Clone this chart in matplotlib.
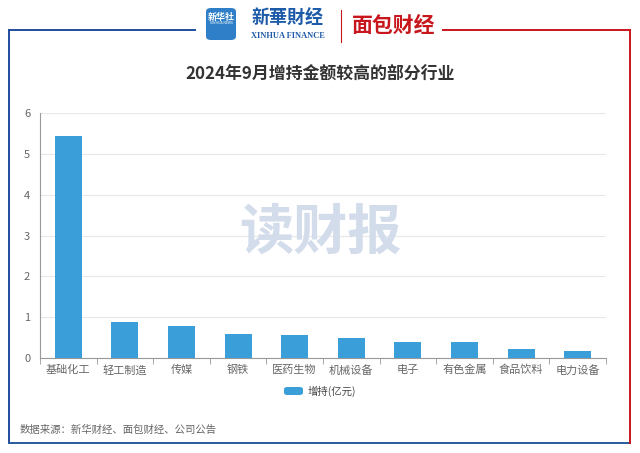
import matplotlib.pyplot as plt
from matplotlib.patches import FancyBboxPatch
from matplotlib.lines import Line2D

plt.rcParams['font.family'] = ['Noto Sans CJK SC', 'DejaVu Sans']

# --- data ---
industries = ['基础化工', '轻工制造', '传媒', '钢铁', '医药生物',
              '机械设备', '电子', '有色金属', '食品饮料', '电力设备']
increase = [5.44, 0.88, 0.78, 0.58, 0.56, 0.48, 0.40, 0.38, 0.21, 0.17]
y_ticks = [0, 1, 2, 3, 4, 5, 6]

BAR = '#3a9fd9'
GREY = '#666666'

fig = plt.figure(figsize=(6.4, 4.53), dpi=100)
W, H = 640, 453

def fx(px):
    return px / W

def fy(py):
    return 1 - py / H

# frame: blue on the left/bottom, red on the right
fig.add_artist(Line2D([fx(9), fx(195)], [fy(29.5), fy(29.5)], color='#1f4e9c', lw=1.4))
fig.add_artist(Line2D([fx(9), fx(9)], [fy(29.5), fy(443)], color='#1f4e9c', lw=1.4))
fig.add_artist(Line2D([fx(9), fx(630)], [fy(443), fy(443)], color='#2a5a9e', lw=1.4))
fig.add_artist(Line2D([fx(443), fx(630)], [fy(29.5), fy(29.5)], color='#c8161d', lw=1.4))
fig.add_artist(Line2D([fx(630), fx(630)], [fy(29.5), fy(443)], color='#c8161d', lw=1.4))

# logos (as text)
icon = FancyBboxPatch((fx(206), fy(40)), fx(30), 32 / H,
                      boxstyle='round,pad=0,rounding_size=0.008',
                      transform=fig.transFigure, fc='#2f7fc8', ec='none')
fig.add_artist(icon)
fig.text(fx(221), fy(17), '新华社', color='white', fontsize=6.5,
         ha='center', va='center', weight='bold')
fig.text(fx(221), fy(23.5), 'XINHUA NEWS', color='white', fontsize=2.5,
         ha='center', va='center')
fig.text(fx(288), fy(17), '新華財经', color='#1d5aa8', fontsize=13,
         ha='center', va='center', weight='bold', style='italic')
fig.text(fx(288), fy(36), 'XINHUA FINANCE', color='#1d5aa8', fontsize=6,
         ha='center', va='center', family='Liberation Serif', weight='bold')
fig.add_artist(Line2D([fx(341), fx(341)], [fy(10), fy(42)], color='#c8161d', lw=0.8))
fig.text(fx(394), fy(25), '面包财经', color='#c8161d', fontsize=15,
         ha='center', va='center', weight='heavy')

# title
fig.text(fx(320), fy(75), '2024年9月增持金额较高的部分行业', color='#333333',
         fontsize=12.2, weight='bold', ha='center', va='center')

# watermark
fig.text(fx(320), fy(233), '读财报', color='#d3dceb', fontsize=39,
         weight='heavy', ha='center', va='center', zorder=0)

ax = fig.add_axes([fx(40), fy(358), fx(606) - fx(40), (358 - 113) / H])
ax.patch.set_alpha(0)
x = range(len(industries))
ax.bar(x, increase, width=0.48, color=BAR, zorder=3)

ax.set_ylim(0, 6)
ax.set_yticks(y_ticks)
ax.set_xlim(-0.5, len(industries) - 0.5)
ax.set_xticks(list(x))
ax.set_xticklabels(industries)
ax.set_xticks([i - 0.5 for i in range(len(industries) + 1)], minor=True)
ax.tick_params(axis='x', which='major', length=0, pad=5, labelsize=8, labelcolor=GREY)
ax.tick_params(axis='x', which='minor', length=4, color='#999999')
ax.tick_params(axis='y', length=0, pad=7, labelsize=8, labelcolor=GREY)

ax.grid(axis='y', color='#e8e8e8', lw=0.8, zorder=0)
for s in ['top', 'right']:
    ax.spines[s].set_visible(False)
ax.spines['left'].set_color('#999999')
ax.spines['bottom'].set_color('#999999')

# legend
leg_box = FancyBboxPatch((fx(284), fy(395)), fx(19), 8 / H,
                         boxstyle='round,pad=0,rounding_size=0.005',
                         transform=fig.transFigure, fc=BAR, ec='none')
fig.add_artist(leg_box)
fig.text(fx(308), fy(391), '增持(亿元)', color='#444444', fontsize=7.5, va='center')

# source
fig.text(fx(20), fy(430), '数据来源：新华财经、面包财经、公司公告', color=GREY,
         fontsize=7.5, va='center')

fig.savefig('out.png', dpi=100)
